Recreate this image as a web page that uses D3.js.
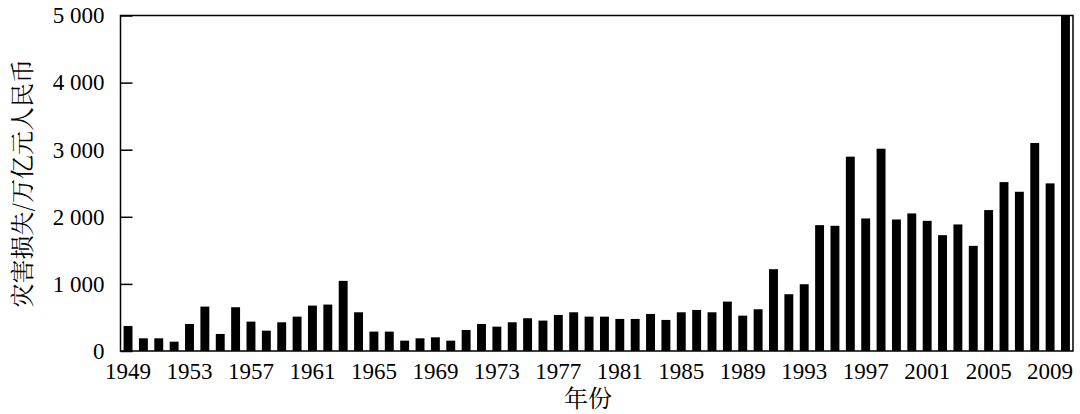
<!DOCTYPE html>
<html>
<head>
<meta charset="utf-8">
<script src="https://cdn.jsdelivr.net/npm/d3@7"></script>
<style>
  html, body { margin: 0; padding: 0; background: #fff; }
  svg { display: block; }
  .title { font-family: "Noto Serif CJK SC", "Noto Sans CJK SC", serif; font-size: 24px; fill: #000; }
</style>
</head>
<body>
<svg width="1080" height="414"></svg>
<script>
// years on the x axis (one bar per year)
const years = d3.range(1949, 2011);

// disaster losses (万亿元人民币 axis units)
const losses = [
  373, 189, 189, 139, 403, 662, 254, 652, 438, 303,   // 1949-1958
  428, 512, 677, 692, 1045, 577, 289, 289, 154, 189,  // 1959-1968
  204, 154, 313, 403, 363, 428, 488, 453, 537, 577,   // 1969-1978
  512, 512, 478, 478, 552, 463, 577, 612, 577, 736,   // 1979-1988
  527, 622, 1219, 846, 995, 1876, 1866, 2896, 1975, 3015, // 1989-1998
  1960, 2050, 1940, 1726, 1886, 1567, 2100, 2517, 2373, 3100, // 1999-2008
  2498, 5000                                          // 2009-2010
];

// tick labels
const xTickYears = [1949, 1953, 1957, 1961, 1965, 1969, 1973, 1977, 1981, 1985, 1989, 1993, 1997, 2001, 2005, 2009];
const yTickValues = [0, 1000, 2000, 3000, 4000, 5000];
const yTickLabels = ['0', '1 000', '2 000', '3 000', '4 000', '5 000'];

const yTitle = '灾害损失/万亿元人民币';
const xTitle = '年份';

const data = years.map((yr, i) => ({ year: yr, value: losses[i] }));

// plot area
const plot = { left: 120.5, right: 1073, top: 15.5, bottom: 351 };
const tickFont = "'Liberation Serif', serif";

const svg = d3.select('svg');

const x = d3.scaleBand()
  .domain(years)
  .range([plot.left, plot.right])
  .paddingInner(0.42)
  .paddingOuter(0.2);

const y = d3.scaleLinear()
  .domain([0, 5000])
  .range([plot.bottom, plot.top]);

svg.append('clipPath')
  .attr('id', 'plot-clip')
  .append('rect')
  .attr('x', plot.left)
  .attr('y', plot.top)
  .attr('width', plot.right - plot.left)
  .attr('height', plot.bottom - plot.top);

// bars
svg.append('g')
  .attr('clip-path', 'url(#plot-clip)')
  .selectAll('rect').data(data)
  .enter().append('rect')
    .attr('x', d => x(d.year))
    .attr('y', d => y(d.value))
    .attr('width', x.bandwidth())
    .attr('height', d => y(0) - y(d.value))
    .attr('fill', '#000');

// frame round the plot
svg.append('rect')
  .attr('x', plot.left)
  .attr('y', plot.top)
  .attr('width', plot.right - plot.left)
  .attr('height', plot.bottom - plot.top)
  .attr('fill', 'none')
  .attr('stroke', '#000')
  .attr('stroke-width', 1.5);

// y axis, ticks pointing inward
const yAxis = d3.axisLeft(y)
  .tickValues(yTickValues)
  .tickFormat((d, i) => yTickLabels[i])
  .tickSizeInner(-12)
  .tickSizeOuter(0)
  .tickPadding(16);

svg.append('g')
  .attr('transform', `translate(${plot.left},0)`)
  .call(yAxis)
  .call(g => g.select('.domain').remove())
  .call(g => g.selectAll('.tick line').attr('stroke', '#000').attr('stroke-width', 1.5));

// x axis, labels only
const xAxis = d3.axisBottom(x)
  .tickValues(xTickYears)
  .tickSize(0)
  .tickPadding(12);

svg.append('g')
  .attr('transform', `translate(0,${plot.bottom})`)
  .call(xAxis)
  .call(g => g.select('.domain').remove());

svg.selectAll('.tick text')
  .style('font-family', tickFont)
  .style('font-size', '23px')
  .attr('fill', '#000');

// axis titles
svg.append('text')
  .attr('class', 'title')
  .attr('transform', `translate(20,${(plot.top + plot.bottom) / 2}) rotate(-90)`)
  .attr('text-anchor', 'middle')
  .attr('dominant-baseline', 'central')
  .text(yTitle);

svg.append('text')
  .attr('class', 'title')
  .attr('x', 588)
  .attr('y', 407)
  .attr('text-anchor', 'middle')
  .text(xTitle);
</script>
</body>
</html>
